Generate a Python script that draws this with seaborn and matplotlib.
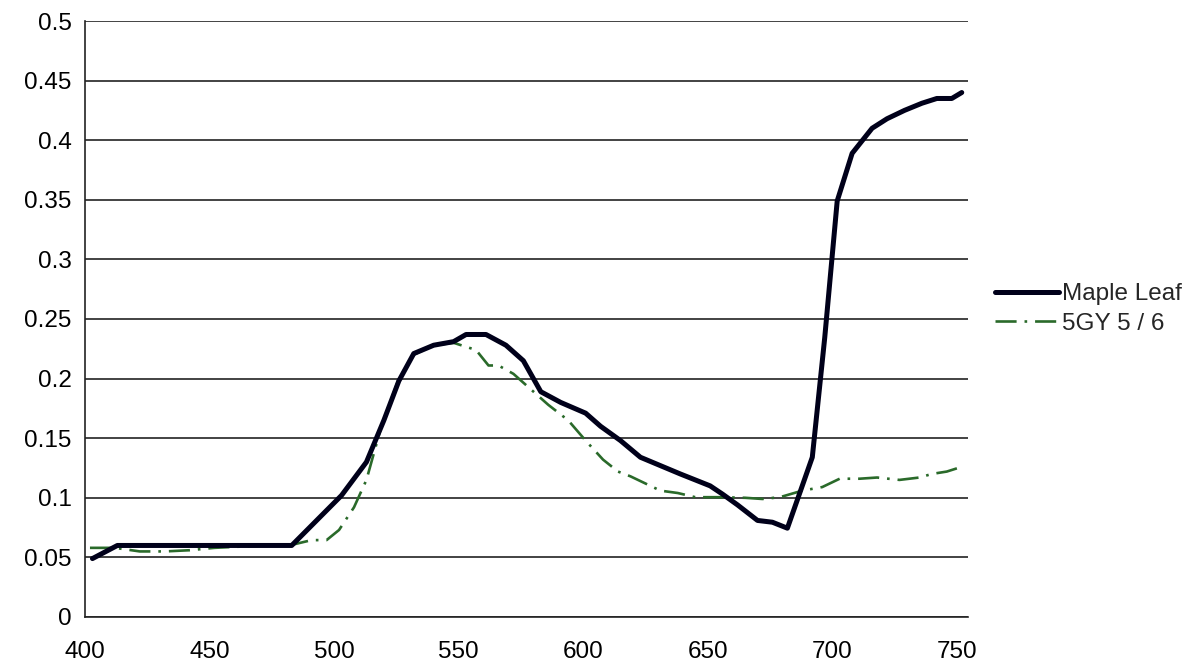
import matplotlib
matplotlib.use("Agg")
import matplotlib.pyplot as plt
import seaborn as sns
import pandas as pd
from matplotlib.lines import Line2D

# ---- data ----
maple_x = [403, 413, 423, 433, 443, 453, 463, 473, 483, 493, 503, 513, 520, 526, 532,
           540, 548, 553, 561, 569, 576, 583, 591, 601, 607, 615, 623, 631, 639, 645,
           651, 656, 662, 670, 676, 682, 692, 697, 702, 708, 716, 722, 729, 736, 742,
           748, 752]
maple_y = [0.049, 0.060, 0.060, 0.060, 0.060, 0.060, 0.060, 0.060, 0.060, 0.081, 0.102,
           0.130, 0.165, 0.198, 0.221, 0.228, 0.231, 0.237, 0.237, 0.228, 0.215, 0.189,
           0.180, 0.171, 0.160, 0.148, 0.134, 0.127, 0.120, 0.115, 0.110, 0.103, 0.094,
           0.081, 0.0795, 0.0745, 0.134, 0.2345, 0.349, 0.389, 0.410, 0.418, 0.425,
           0.431, 0.435, 0.435, 0.440]

gy_x = [402, 412, 422, 432, 442, 452, 462, 472, 482, 491, 497, 502, 508, 513, 519, 526,
        532, 540, 548, 557, 562, 566, 572, 579, 586, 594, 601, 608, 614, 619, 625, 631,
        638, 645, 655, 665, 672, 679, 688, 696, 703, 711, 718, 727, 735, 740, 746, 752]
gy_y = [0.058, 0.058, 0.055, 0.055, 0.056, 0.058, 0.059, 0.060, 0.060, 0.0645, 0.0645,
        0.073, 0.092, 0.115, 0.160, 0.200, 0.220, 0.228, 0.230, 0.224, 0.211, 0.211,
        0.204, 0.191, 0.178, 0.165, 0.148, 0.132, 0.122, 0.118, 0.112, 0.106, 0.104,
        0.1005, 0.1005, 0.100, 0.099, 0.1005, 0.106, 0.109, 0.116, 0.116, 0.117, 0.115,
        0.117, 0.120, 0.122, 0.126]

series_names = ["Maple Leaf", "5GY 5 / 6"]
x_major = [400, 450, 500, 550, 600, 650, 700, 750]
x_minor = [425, 475, 525, 575, 625, 675, 725]
y_ticks = [0, 0.05, 0.1, 0.15, 0.2, 0.25, 0.3, 0.35, 0.4, 0.45, 0.5]
y_labels = ["0", "0.05", "0.1", "0.15", "0.2", "0.25", "0.3", "0.35", "0.4", "0.45", "0.5"]

df_maple = pd.DataFrame({"wavelength": maple_x, "value": maple_y})
df_gy = pd.DataFrame({"wavelength": gy_x, "value": gy_y})

sns.set_style("white")
plt.rcParams["font.family"] = ["Liberation Sans", "DejaVu Sans"]

fig = plt.figure(figsize=(12.02, 6.71), dpi=100)
ax = fig.add_axes([0.0707, 0.0805, 0.7346, 0.8882])

black = "#00001a"
green = "#2a6a2a"

sns.lineplot(data=df_gy, x="wavelength", y="value", ax=ax, color=green,
             linewidth=1.9, legend=False, sort=False)
ax.lines[-1].set_dashes((8, 3, 1, 3))
sns.lineplot(data=df_maple, x="wavelength", y="value", ax=ax, color=black,
             linewidth=3.6, legend=False, sort=False)

ax.set_xlim(400, 754.5)
ax.set_ylim(0, 0.5)
ax.set_xticks(x_major)
ax.set_xticklabels([str(v) for v in x_major])
ax.set_xticks(x_minor, minor=True)
ax.set_yticks(y_ticks)
ax.set_yticklabels(y_labels)
ax.tick_params(axis="both", which="both", direction="out", length=9, width=1.2,
               color="#222222", labelsize=17.5, labelcolor="black")
ax.tick_params(axis="x", which="both", pad=8)
ax.tick_params(axis="y", pad=0.5)
ax.yaxis.grid(True, color="#222222", linewidth=1.2)
ax.xaxis.grid(False)
ax.set_axisbelow(True)
for s in ["top", "right"]:
    ax.spines[s].set_visible(False)
for s in ["left", "bottom"]:
    ax.spines[s].set_color("#222222")
    ax.spines[s].set_linewidth(1.2)
ax.set_xlabel("")
ax.set_ylabel("")

handles = [
    Line2D([0], [0], color=black, linewidth=3.6),
    Line2D([0], [0], color=green, linewidth=1.9, dashes=(8, 3, 1, 3)),
]
leg = ax.legend(handles, series_names, loc="center left",
                bbox_to_anchor=(1.02, 0.517), frameon=False, fontsize=17.5,
                handlelength=2.6, handletextpad=0.15, labelspacing=0.3,
                borderaxespad=0)

fig.savefig("out.png", dpi=100, facecolor="white")
